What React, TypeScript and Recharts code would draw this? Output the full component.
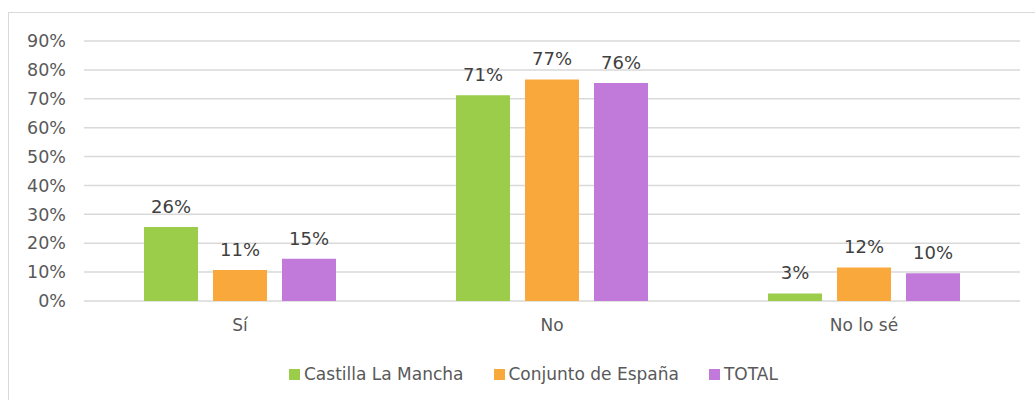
import React from 'react'
import { BarChart, Bar, XAxis, YAxis, CartesianGrid, LabelList } from 'recharts'

const categories = ['Sí', 'No', 'No lo sé']
const castillaLaMancha = [25.6, 71.2, 2.6]
const conjuntoEspana = [10.7, 76.7, 11.6]
const total = [14.6, 75.5, 9.6]
const yTicks = [0, 10, 20, 30, 40, 50, 60, 70, 80, 90]

const series = [
  { key: 'clm', name: 'Castilla La Mancha', color: '#9BCC4A' },
  { key: 'esp', name: 'Conjunto de España', color: '#F9A83B' },
  { key: 'total', name: 'TOTAL', color: '#C17ADA' },
]

const chartData = categories.map((cat, i) => ({
  cat,
  clm: castillaLaMancha[i],
  esp: conjuntoEspana[i],
  total: total[i],
}))

const FONT = '"Century Gothic", "DejaVu Sans", sans-serif'

// legend drawn as plain html under the plot, like the Excel original
function ChartLegend() {
  return (
    <div
      style={{
        position: 'absolute',
        left: 289,
        top: 363,
        display: 'flex',
        alignItems: 'center',
        fontFamily: FONT,
        fontSize: 17,
        lineHeight: '22px',
        color: '#595959',
        whiteSpace: 'nowrap',
      }}
    >
      {series.map((s) => (
        <div key={s.key} style={{ display: 'flex', alignItems: 'center', marginRight: 30 }}>
          <span style={{ width: 11, height: 11, background: s.color, marginRight: 4, display: 'inline-block' }} />
          <span>{s.name}</span>
        </div>
      ))}
    </div>
  )
}

export default function App() {
  return (
    <div style={{ position: 'fixed', left: 0, top: 0, width: 1035, height: 400, overflow: 'hidden', background: '#fff' }}>
      {/* chart frame, only top and left edges fall inside the window */}
      <div
        style={{
          position: 'absolute',
          left: 8,
          top: 12,
          width: 1050,
          height: 420,
          border: '1.5px solid #d9d9d9',
          boxSizing: 'border-box',
        }}
      />
      <div style={{ position: 'absolute', left: 0, top: 0 }}>
        <BarChart
          width={1035}
          height={400}
          data={chartData}
          margin={{ top: 41, right: 15, left: 8, bottom: 69 }}
          barSize={54}
          barGap={15}
        >
          <CartesianGrid vertical={false} stroke="#d9d9d9" strokeWidth={1.5} />
          <XAxis
            dataKey="cat"
            axisLine={false}
            tickLine={false}
            tickSize={0}
            tickMargin={18}
            height={30}
            tick={{ fontSize: 17, fill: '#595959', fontFamily: FONT }}
          />
          <YAxis
            domain={[0, 90]}
            ticks={yTicks}
            interval={0}
            width={76}
            axisLine={false}
            tickLine={false}
            tickSize={0}
            tickMargin={18}
            tick={{ fontSize: 17.5, fill: '#595959', fontFamily: FONT }}
            tickFormatter={(v) => `${v}%`}
          />
          {series.map((s) => (
            <Bar key={s.key} dataKey={s.key} name={s.name} fill={s.color} isAnimationActive={false}>
              <LabelList
                dataKey={s.key}
                position="top"
                offset={14}
                formatter={(v: number) => `${Math.round(v)}%`}
                style={{ fontSize: 18, fill: '#404040', fontFamily: FONT }}
              />
            </Bar>
          ))}
        </BarChart>
      </div>
      <ChartLegend />
    </div>
  )
}
